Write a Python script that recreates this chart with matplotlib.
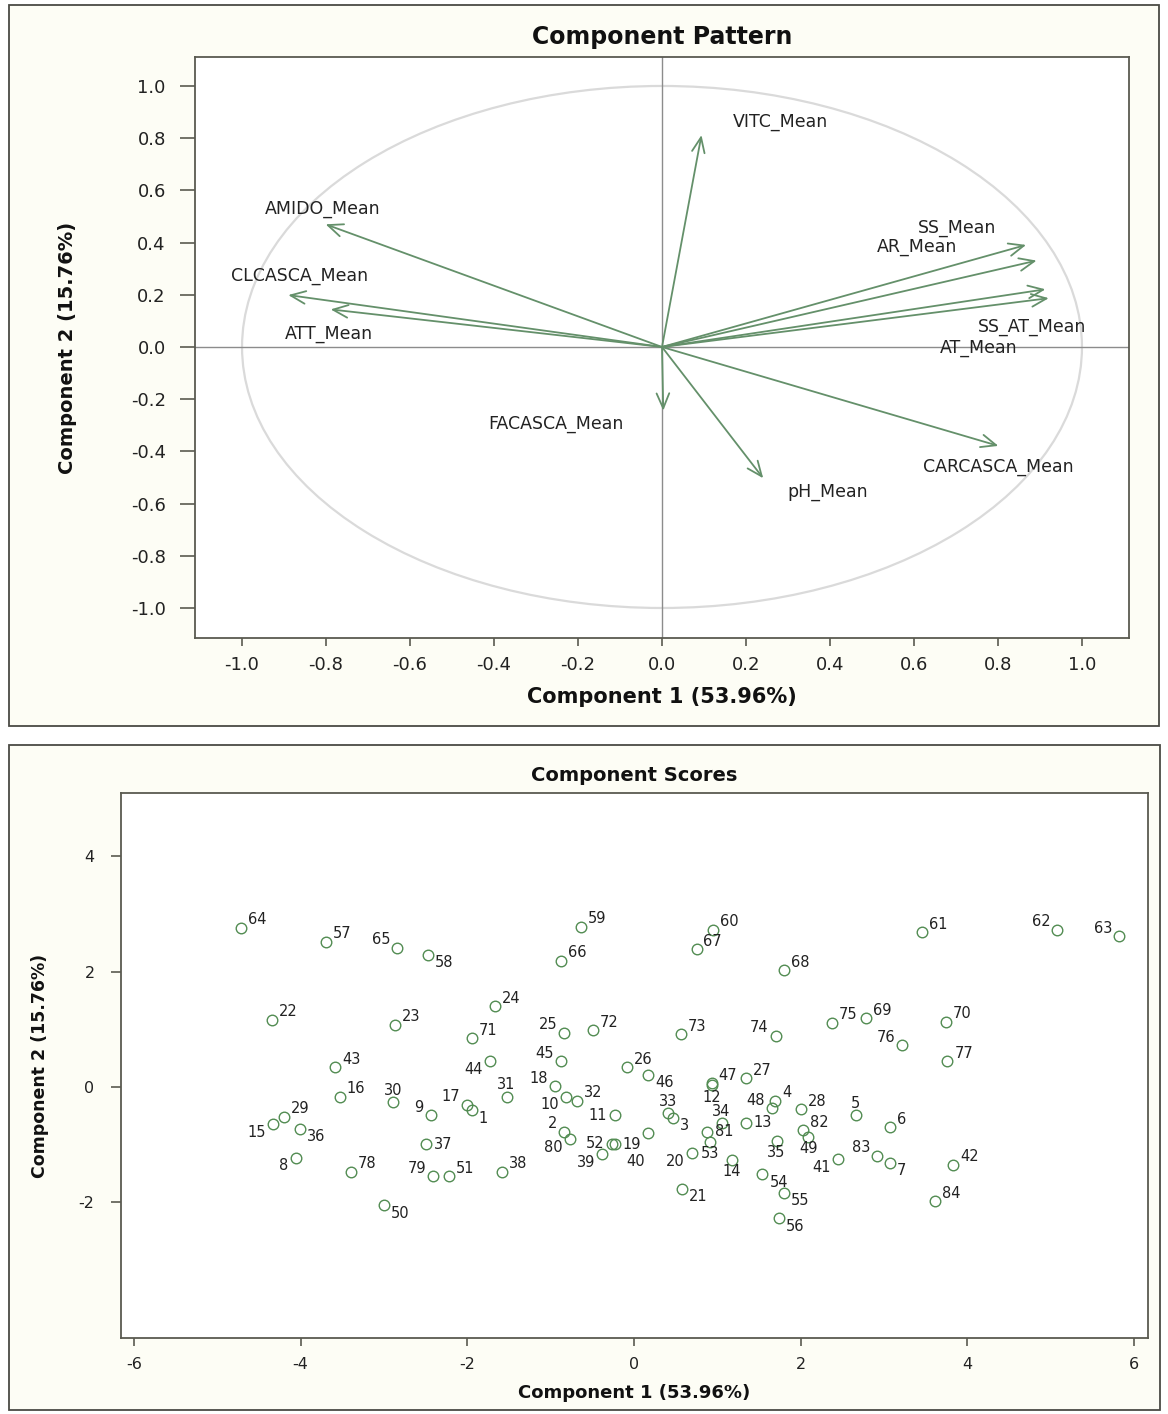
import matplotlib
matplotlib.use("Agg")
import matplotlib.pyplot as plt
from matplotlib.patches import Rectangle, Circle

# ---------------- data: component pattern (loadings) ----------------
variables = ["VITC_Mean", "AMIDO_Mean", "CLCASCA_Mean", "ATT_Mean", "SS_Mean",
             "AR_Mean", "SS_AT_Mean", "AT_Mean", "FACASCA_Mean", "pH_Mean",
             "CARCASCA_Mean"]
load_pc1 = [0.094, -0.801, -0.890, -0.789, 0.867, 0.892, 0.913, 0.921, 0.003, 0.241, 0.801]
load_pc2 = [0.812, 0.470, 0.199, 0.144, 0.391, 0.331, 0.221, 0.187, -0.244, -0.503, -0.379]

# label anchor (centre) for each loading label, in data units
label_pos = {
    "VITC_Mean": (0.281, 0.862), "AMIDO_Mean": (-0.807, 0.529),
    "CLCASCA_Mean": (-0.863, 0.272), "ATT_Mean": (-0.793, 0.050),
    "SS_Mean": (0.702, 0.457), "AR_Mean": (0.608, 0.384),
    "SS_AT_Mean": (0.881, 0.078), "AT_Mean": (0.753, -0.003),
    "FACASCA_Mean": (-0.252, -0.295), "pH_Mean": (0.395, -0.557),
    "CARCASCA_Mean": (0.801, -0.459),
}

# ---------------- data: component scores ----------------
obs_id = list(range(1, 85))
score_pc1 = [-1.95, -0.84, 0.47, 1.69, 2.66, 3.07, 3.07, -4.06, -2.44, -0.82,
             -0.23, 0.93, 1.34, 1.17, -4.33, -3.53, -2.00, -0.95, -0.23, 0.69,
             0.58, -4.35, -2.87, -1.67, -0.84, -0.08, 1.34, 2.00, -4.20, -2.89,
             -1.53, -0.69, 0.41, 1.05, 1.71, -4.01, -2.50, -1.58, -0.38, 0.17,
             2.45, 3.83, -3.59, -1.73, -0.88, 0.17, 0.93, 1.65, 2.09, -3.00,
             -2.22, -0.26, 0.91, 1.54, 1.80, 1.74, -3.70, -2.47, -0.64, 0.95,
             3.46, 5.08, 5.82, -4.72, -2.84, -0.88, 0.75, 1.80, 2.78, 3.74,
             -1.95, -0.49, 0.56, 1.70, 2.37, 3.22, 3.76, -3.40, -2.41, -0.77,
             0.87, 2.03, 2.92, 3.61]
score_pc2 = [-0.41, -0.78, -0.54, -0.24, -0.49, -0.70, -1.32, -1.23, -0.49, -0.17,
             -0.49, 0.03, -0.62, -1.27, -0.65, -0.17, -0.31, 0.01, -1.00, -1.15,
             -1.77, 1.16, 1.08, 1.40, 0.94, 0.34, 0.15, -0.39, -0.52, -0.27,
             -0.17, -0.24, -0.46, -0.63, -0.94, -0.73, -1.00, -1.47, -1.17, -0.81,
             -1.26, -1.35, 0.34, 0.44, 0.44, 0.21, 0.06, -0.37, -0.87, -2.06,
             -1.55, -0.99, -0.95, -1.52, -1.84, -2.28, 2.52, 2.29, 2.78, 2.73,
             2.68, 2.73, 2.61, 2.76, 2.41, 2.19, 2.39, 2.02, 1.19, 1.13,
             0.84, 0.98, 0.91, 0.89, 1.11, 0.72, 0.44, -1.47, -1.55, -0.91,
             -0.78, -0.75, -1.20, -1.99]

# where each point label sits relative to its marker
label_side = {
    1: "lr", 2: "ul", 3: "lr", 4: "ur", 5: "u", 6: "ur", 7: "lr", 8: "ll", 9: "ul", 10: "ll",
    11: "l", 12: "d", 13: "r", 14: "d", 15: "ll", 16: "ur", 17: "ul", 18: "ul", 19: "r", 20: "ll",
    21: "lr", 22: "ur", 23: "ur", 24: "ur", 25: "ul", 26: "ur", 27: "ur", 28: "ur", 29: "ur", 30: "u",
    31: "u", 32: "ur", 33: "u", 34: "u", 35: "d", 36: "lr", 37: "r", 38: "ur", 39: "ll", 40: "dl",
    41: "ll", 42: "ur", 43: "ur", 44: "ll", 45: "ul", 46: "lr", 47: "ur", 48: "ul", 49: "d", 50: "lr",
    51: "ur", 52: "l", 53: "d", 54: "lr", 55: "lr", 56: "lr", 57: "ur", 58: "lr", 59: "ur", 60: "ur",
    61: "ur", 62: "ul", 63: "ul", 64: "ur", 65: "ul", 66: "ur", 67: "ur", 68: "ur", 69: "ur", 70: "ur",
    71: "ur", 72: "ur", 73: "ur", 74: "ul", 75: "ur", 76: "ul", 77: "ur", 78: "ur", 79: "ul", 80: "ll",
    81: "r", 82: "ur", 83: "ul", 84: "ur",
}
side_offset = {
    "ur": ((7, 8), "left"), "ul": ((-7, 8), "right"),
    "lr": ((7, -8), "left"), "ll": ((-7, -8), "right"),
    "r": ((8, 0), "left"), "l": ((-8, 0), "right"),
    "u": ((0, 12), "center"), "d": ((0, -12), "center"),
    "dl": ((-13, -28), "center"),
}

title_top = "Component Pattern"
title_bottom = "Component Scores"
xlab = "Component 1 (53.96%)"
ylab = "Component 2 (15.76%)"
pattern_ticks = [-1.0, -0.8, -0.6, -0.4, -0.2, 0.0, 0.2, 0.4, 0.6, 0.8, 1.0]
score_xticks = [-6, -4, -2, 0, 2, 4, 6]
score_yticks = [-2, 0, 2, 4]

# ---------------- styling ----------------
plt.rcParams["font.family"] = ["DejaVu Sans"]
plt.rcParams["axes.unicode_minus"] = False
W, H = 1168, 1414
fig = plt.figure(figsize=(W / 100, H / 100), dpi=100, facecolor="white")

panel_bg = "#fdfdf5"
frame_col = "#4a4a44"
spine_col = "#5a5a50"
green = "#528c52"
arrow_col = "#64906a"

def fx(px):
    return px / W

def fy(py):
    return 1 - py / H

# outer panel frames
fig.add_artist(Rectangle((fx(9), fy(726)), fx(1159) - fx(9), fy(5) - fy(726),
                         transform=fig.transFigure, facecolor=panel_bg,
                         edgecolor=frame_col, lw=1.3, zorder=-5))
fig.add_artist(Rectangle((fx(9), fy(1410)), fx(1160) - fx(9), fy(745) - fy(1410),
                         transform=fig.transFigure, facecolor=panel_bg,
                         edgecolor=frame_col, lw=1.3, zorder=-5))

# ---------------- top panel: component pattern ----------------
ax1 = fig.add_axes([fx(195), fy(638), fx(1129) - fx(195), fy(57) - fy(638)])
ax1.set_facecolor("white")
ax1.set_xlim(-1.112, 1.112)
ax1.set_ylim(-1.115, 1.111)

ax1.add_patch(Circle((0, 0), 1.0, fill=False, edgecolor="#dadada", lw=1.6, zorder=1))
ax1.axhline(0, color="#8c8c8c", lw=1.0, zorder=1)
ax1.axvline(0, color="#8c8c8c", lw=1.0, zorder=1)

for name, x, y in zip(variables, load_pc1, load_pc2):
    ax1.annotate("", xy=(x, y), xytext=(0, 0),
                 arrowprops=dict(arrowstyle="->,head_length=0.9,head_width=0.38",
                                 color=arrow_col, lw=1.3, shrinkA=0, shrinkB=0,
                                 mutation_scale=12),
                 zorder=3)
    lx, ly = label_pos[name]
    ax1.text(lx, ly, name, ha="center", va="center", fontsize=12.5,
             color="#222222", zorder=4)

ax1.set_xticks(pattern_ticks)
ax1.set_yticks(pattern_ticks)
ax1.set_xticklabels([f"{t:.1f}" for t in pattern_ticks])
ax1.set_yticklabels([f"{t:.1f}" for t in pattern_ticks])
ax1.tick_params(axis="x", direction="out", length=6, width=1.2, pad=7,
                labelsize=13, colors=spine_col, labelcolor="#222222")
ax1.tick_params(axis="y", direction="out", length=11, width=1.2, pad=10,
                labelsize=13, colors=spine_col, labelcolor="#222222")
for s in ax1.spines.values():
    s.set_color(spine_col)
    s.set_linewidth(1.3)

ax1.set_title(title_top, fontsize=17, fontweight="bold", y=1.034, pad=0,
              va="center", color="#111111")
ax1.set_xlabel(xlab, fontsize=15, fontweight="bold", color="#111111")
ax1.xaxis.set_label_coords(0.5, -0.1016)
ax1.xaxis.label.set_va("center")
ax1.set_ylabel(ylab, fontsize=14, fontweight="bold", color="#111111")
ax1.yaxis.set_label_coords(-0.136, 0.5)
ax1.yaxis.label.set_va("center")

# ---------------- bottom panel: component scores ----------------
ax2 = fig.add_axes([fx(121), fy(1338), fx(1148) - fx(121), fy(793) - fy(1338)])
ax2.set_facecolor("white")
ax2.set_xlim(-6.156, 6.168)
ax2.set_ylim(-4.36, 5.10)

ax2.plot(score_pc1, score_pc2, linestyle="none", marker="o", markersize=7.6,
         markerfacecolor="none", markeredgecolor=green, markeredgewidth=1.0, zorder=3)
for i, x, y in zip(obs_id, score_pc1, score_pc2):
    (dx, dy), ha = side_offset[label_side[i]]
    ax2.annotate(str(i), xy=(x, y), xytext=(dx, dy), textcoords="offset pixels",
                 ha=ha, va="center", fontsize=10.5, color="#222222", zorder=4)

ax2.set_xticks(score_xticks)
ax2.set_yticks(score_yticks)
ax2.tick_params(axis="x", direction="out", length=6, width=1.2, pad=8,
                labelsize=11.5, colors=spine_col, labelcolor="#222222")
ax2.tick_params(axis="y", direction="out", length=7, width=1.2, pad=12,
                labelsize=11.5, colors=spine_col, labelcolor="#222222")
for s in ax2.spines.values():
    s.set_color(spine_col)
    s.set_linewidth(1.3)

ax2.set_title(title_bottom, fontsize=14, fontweight="bold", y=1.033, pad=0,
              va="center", color="#111111")
ax2.set_xlabel(xlab, fontsize=13, fontweight="bold", color="#111111")
ax2.xaxis.set_label_coords(0.5, -0.101)
ax2.xaxis.label.set_va("center")
ax2.set_ylabel(ylab, fontsize=12.5, fontweight="bold", color="#111111")
ax2.yaxis.set_label_coords(-0.079, 0.5)
ax2.yaxis.label.set_va("center")

fig.savefig("out.png", dpi=100, facecolor="white")
